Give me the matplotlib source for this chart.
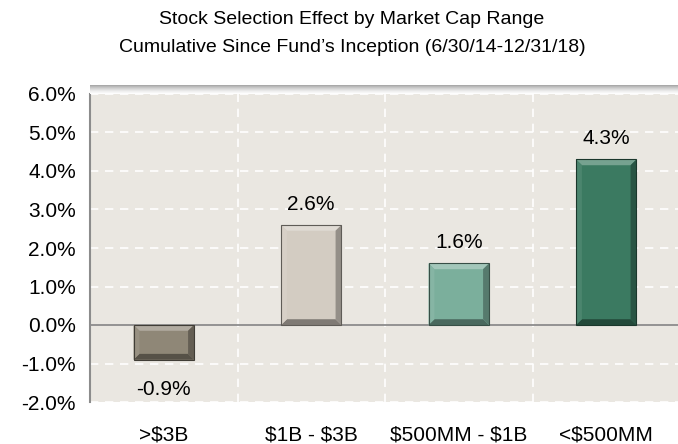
#!/usr/bin/env python3

'''Stock selection effect by market cap range - bar chart'''

import matplotlib
matplotlib.use('Agg')
import matplotlib.pyplot as plt
from matplotlib.patches import Polygon
import numpy as np

# data
categories = ['>$3B', '$1B - $3B', '$500MM - $1B', '<$500MM']
effect = [-0.9, 2.6, 1.6, 4.3]
bar_colors = ['#8F8777', '#D3CCC2', '#7BAF9C', '#3B7A61']
yticks = [-2.0, -1.0, 0.0, 1.0, 2.0, 3.0, 4.0, 5.0, 6.0]

plt.rcParams['font.family'] = ['Liberation Sans Narrow', 'Liberation Sans', 'DejaVu Sans']
plt.rcParams['text.parse_math'] = False  # dollar signs are literal


def shade(color, f):
    '''lighten (f>0) or darken (f<0) a colour'''
    c = np.array(matplotlib.colors.to_rgb(color))
    if f > 0:
        c = c + (1 - c) * f
    else:
        c = c * (1 + f)
    return tuple(np.clip(c, 0, 1))


fig = plt.figure(figsize=(6.78, 4.44), dpi=100)
ax = fig.add_axes([90 / 678, 1 - 402 / 444, 590 / 678, 308 / 444])
ax.set_facecolor('#EAE7E1')

x = np.arange(len(categories))
bars = ax.bar(x, effect, width=0.41, color=bar_colors, edgecolor='none', zorder=3)

# bevel look, built from each bar's own geometry
dx, dy = 0.04, 0.15
for b, col in zip(bars, bar_colors):
    x0, w = b.get_x(), b.get_width()
    y0, y1 = sorted([b.get_y(), b.get_y() + b.get_height()])
    x1 = x0 + w
    ix0, ix1, iy0, iy1 = x0 + dx, x1 - dx, y0 + dy, y1 - dy
    faces = [
        ([(x0, y1), (x1, y1), (ix1, iy1), (ix0, iy1)], shade(col, 0.3)),
        ([(x0, y0), (x1, y0), (ix1, iy0), (ix0, iy0)], shade(col, -0.4)),
        ([(x0, y0), (x0, y1), (ix0, iy1), (ix0, iy0)], shade(col, 0.08)),
        ([(x1, y0), (x1, y1), (ix1, iy1), (ix1, iy0)], shade(col, -0.3)),
    ]
    for pts, fc in faces:
        ax.add_patch(Polygon(pts, closed=True, facecolor=fc, edgecolor='none', zorder=4))
    ax.add_patch(Polygon([(x0, y0), (x1, y0), (x1, y1), (x0, y1)], closed=True,
                         facecolor='none', edgecolor=shade(col, -0.55), lw=0.8, zorder=5))

for b, v in zip(bars, effect):
    cx = b.get_x() + b.get_width() / 2
    if v >= 0:
        ax.annotate('{:.1f}%'.format(v), (cx, v), xytext=(0, 8), textcoords='offset points',
                    ha='center', va='bottom', fontsize=15)
    else:
        ax.annotate('{:.1f}%'.format(v), (cx, v), xytext=(0, -15), textcoords='offset points',
                    ha='center', va='top', fontsize=15)

ax.set_xlim(-0.5, len(categories) - 0.5)
ax.set_ylim(-2.0, 6.0)
ax.set_yticks(yticks)
ax.set_yticklabels(['{:.1f}%'.format(t) for t in yticks], fontsize=15)
ax.set_xticks(x)
ax.set_xticklabels(categories, fontsize=15)
ax.tick_params(axis='both', length=0)
ax.tick_params(axis='x', pad=17)
ax.tick_params(axis='y', pad=10)

# grid
for t in yticks:
    if t != 0:
        ax.axhline(t, color='white', lw=1.2, ls=(0, (5, 4)), zorder=1)
for xb in np.arange(0.5, len(categories) - 0.5, 1):
    ax.axvline(xb, color='white', lw=1.2, ls=(0, (5, 4)), zorder=1)
ax.axhline(0, color='#8C8C8C', lw=1.3, zorder=2)

for s in ['top', 'right', 'bottom']:
    ax.spines[s].set_visible(False)
ax.spines['left'].set_color('#8C8C8C')
ax.spines['left'].set_linewidth(1.5)

# soft shadow above plot area
sh = fig.add_axes([90 / 678, 1 - 94 / 444, 590 / 678, 9 / 444])
grad = np.linspace(0, 1, 20).reshape(-1, 1)
sh.imshow(grad, aspect='auto', cmap='Greys', vmin=0, vmax=2.2, extent=[0, 1, 0, 1], origin='lower')
sh.set_axis_off()

fig.text(352 / 678, 1 - 20 / 444, 'Stock Selection Effect by Market Cap Range',
         ha='center', va='center', fontsize=14)
fig.text(352 / 678, 1 - 47 / 444, 'Cumulative Since Fund\u2019s Inception (6/30/14-12/31/18)',
         ha='center', va='center', fontsize=14)

fig.savefig('out.png', dpi=100)
